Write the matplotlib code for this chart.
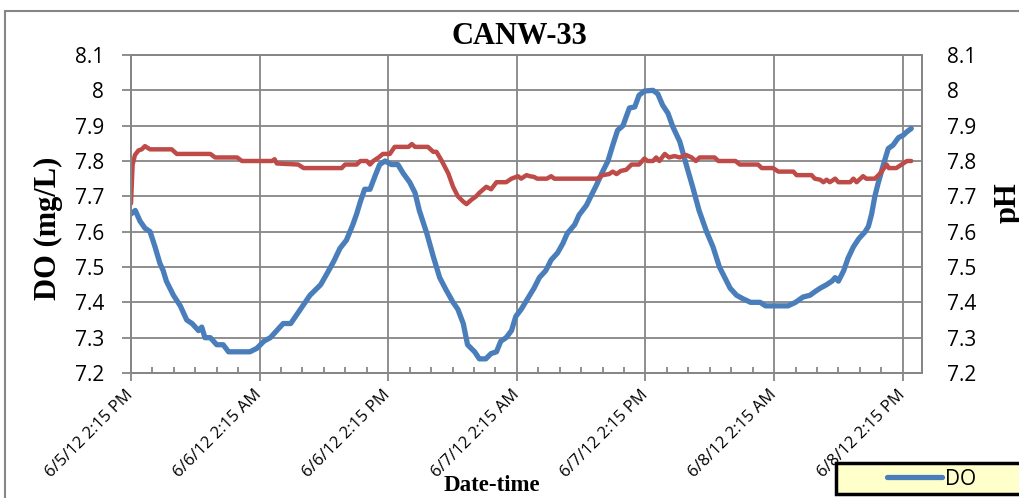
import numpy as np
from matplotlib import pyplot as plt
from matplotlib.patches import Rectangle

# hours after 6/5/12 2:15 PM
do_hours = [0, 0.4, 0.84, 1.3, 1.78, 2.24, 2.7, 3.0, 3.3, 3.96, 4.6, 5.2, 5.7, 6.3, 6.6, 6.9,
            7.4, 8.0, 8.6, 9.1, 11.1, 11.75, 12.4, 13.0, 13.6, 14.2, 14.9, 15.8, 16.7, 17.7,
            18.26, 18.9, 19.5, 20.1, 20.7, 21.05, 21.4, 21.8, 22.3, 22.8, 23.2, 23.7, 24.3,
            24.9, 25.4, 26.0, 26.5, 26.9, 27.6, 28.2, 28.8, 29.4, 30.05, 30.5, 31.0, 31.4,
            32.06, 32.5, 33.1, 33.6, 34.1, 34.5, 35.0, 35.5, 35.9, 36.4, 36.8, 37.2, 37.6,
            38.1, 38.7, 39.2, 39.8, 40.3, 40.7, 41.4, 41.8, 42.5, 42.9, 43.4, 44.0, 44.5,
            44.95, 45.4, 45.9, 46.2, 46.5, 47.0, 47.4, 47.9, 48.7, 49.15, 49.6, 50.1, 50.55,
            51.2, 51.8, 52.4, 53.0, 53.7, 54.3, 54.9, 55.4, 55.9, 56.5, 57.1, 57.8, 58.7,
            59.2, 61.3, 62.0, 62.7, 63.35, 63.8, 64.3, 64.9, 65.4, 65.7, 66.0, 66.5, 66.9,
            67.4, 67.9, 68.5, 68.8, 69.1, 69.4, 69.7, 70.2, 70.65, 71.1, 71.6, 72.05, 72.4, 72.8]
do_vals = [7.65, 7.66, 7.63, 7.61, 7.60, 7.557, 7.51, 7.49, 7.46, 7.42, 7.39, 7.35, 7.34, 7.32, 7.33, 7.30,
           7.30, 7.28, 7.28, 7.26, 7.26, 7.27, 7.29, 7.30, 7.32, 7.34, 7.34, 7.38, 7.42, 7.45,
           7.48, 7.515, 7.553, 7.576, 7.62, 7.65, 7.685, 7.72, 7.72, 7.76, 7.79, 7.80, 7.79,
           7.79, 7.765, 7.74, 7.71, 7.66, 7.595, 7.53, 7.47, 7.435, 7.40, 7.38, 7.34, 7.28,
           7.26, 7.24, 7.24, 7.255, 7.26, 7.29, 7.30, 7.32, 7.36, 7.38, 7.40, 7.42, 7.44,
           7.47, 7.49, 7.52, 7.54, 7.567, 7.595, 7.62, 7.647, 7.675, 7.70, 7.73, 7.77, 7.80,
           7.845, 7.887, 7.90, 7.925, 7.95, 7.953, 7.986, 7.998, 8.0, 7.99, 7.958, 7.935, 7.897,
           7.855, 7.79, 7.727, 7.66, 7.60, 7.557, 7.50, 7.47, 7.44, 7.42, 7.41, 7.40, 7.40,
           7.39, 7.39, 7.40, 7.415, 7.42, 7.43, 7.44, 7.45, 7.46, 7.47, 7.46, 7.49, 7.525,
           7.557, 7.58, 7.60, 7.615, 7.65, 7.70, 7.736, 7.79, 7.835, 7.845, 7.866, 7.873, 7.883, 7.892]

ph_hours = [0, 0.15, 0.37, 0.7, 1.0, 1.3, 1.78, 3.8, 4.27, 7.4, 7.85, 9.9, 10.35, 13.15, 13.4, 13.6,
            15.6, 16.1, 19.66, 19.97, 21.05, 21.4, 22.0, 22.3, 22.6, 23.1, 23.5, 24.15, 24.6,
            25.9, 26.2, 26.5, 27.7, 28.2, 28.5, 29.0, 29.6, 30.05, 30.5, 31.0, 31.3, 31.75,
            32.2, 32.5, 33.15, 33.6, 34.1, 35.0, 35.5, 36.1, 36.4, 36.9, 37.2, 37.6, 37.9,
            38.4, 38.8, 39.2, 39.5, 43.5, 44.0, 44.6, 44.95, 45.3, 45.7, 46.2, 46.7, 47.4,
            47.9, 48.2, 48.7, 49.0, 49.3, 49.8, 50.2, 50.7, 51.2, 51.8, 52.3, 52.7, 53.05,
            54.45, 54.8, 56.4, 56.8, 58.5, 58.85, 59.9, 60.4, 61.8, 62.1, 63.5, 63.8, 64.3,
            64.6, 64.9, 65.2, 65.7, 66.0, 67.1, 67.4, 67.7, 68.3, 68.6, 69.4, 69.9, 70.5,
            70.7, 71.4, 71.9, 72.4, 72.8]
ph_vals = [7.68, 7.79, 7.817, 7.83, 7.833, 7.842, 7.833, 7.833, 7.82, 7.82, 7.81, 7.81, 7.80, 7.80, 7.805, 7.793,
           7.79, 7.78, 7.78, 7.79, 7.79, 7.80, 7.80, 7.79, 7.80, 7.81, 7.82, 7.82, 7.84,
           7.84, 7.848, 7.84, 7.84, 7.826, 7.826, 7.80, 7.765, 7.727, 7.70, 7.685, 7.678, 7.69,
           7.70, 7.71, 7.727, 7.72, 7.74, 7.74, 7.75, 7.757, 7.75, 7.76, 7.757, 7.755, 7.75,
           7.75, 7.75, 7.757, 7.75, 7.75, 7.76, 7.763, 7.77, 7.763, 7.772, 7.775, 7.79, 7.79,
           7.807, 7.80, 7.80, 7.81, 7.80, 7.82, 7.81, 7.814, 7.81, 7.817, 7.81, 7.80, 7.81,
           7.81, 7.80, 7.80, 7.79, 7.79, 7.78, 7.78, 7.77, 7.77, 7.76, 7.76, 7.75, 7.747,
           7.74, 7.747, 7.74, 7.75, 7.74, 7.74, 7.75, 7.74, 7.757, 7.75, 7.75, 7.765, 7.79,
           7.78, 7.78, 7.79, 7.80, 7.80]

tick_hours = [0, 12, 24, 36, 48, 60, 72]
tick_labels = ['6/5/12 2:15 PM', '6/6/12 2:15 AM', '6/6/12 2:15 PM', '6/7/12 2:15 AM',
               '6/7/12 2:15 PM', '6/8/12 2:15 AM', '6/8/12 2:15 PM']
y_ticks = [7.2, 7.3, 7.4, 7.5, 7.6, 7.7, 7.8, 7.9, 8.0, 8.1]
y_labels = ['7.2', '7.3', '7.4', '7.5', '7.6', '7.7', '7.8', '7.9', '8', '8.1']

W, H = 1019, 498
blue = '#4A7EBB'
red = '#BE4B48'
gray = '#868686'
serif = 'Liberation Serif'
plt.rcParams['font.family'] = ['Open Sans', 'DejaVu Sans']

fig = plt.figure(figsize=(W / 100, H / 100), dpi=100)
ax = fig.add_axes([131 / W, 1 - 373 / H, (922 - 131) / W, (373 - 55) / H])
ax2 = ax.twinx()

do_line, = ax.plot(do_hours, do_vals, color=blue, lw=3.8, solid_capstyle='round', solid_joinstyle='round')
ax2.plot(ph_hours, ph_vals, color=red, lw=3.2, solid_capstyle='round', solid_joinstyle='round')

for a in (ax, ax2):
    a.set_ylim(7.2, 8.1)
    a.set_yticks(y_ticks)
    a.set_yticklabels(y_labels)
    for s in a.spines.values():
        s.set_color(gray)
        s.set_linewidth(1.3)
ax.set_xlim(0, 73.8)
ax.set_xticks(tick_hours)
ax.set_xticks(np.arange(0, 74, 2), minor=True)
ax.set_xticklabels(tick_labels, rotation=45, ha='right', va='center', rotation_mode='anchor')
ax.tick_params(axis='x', which='major', direction='out', length=6, width=1.3, color=gray,
               labelsize=12, pad=8)
ax.tick_params(axis='x', which='minor', direction='in', length=4, width=1.3, color=gray)
ax.tick_params(axis='y', direction='out', length=6.5, width=1.3, color=gray, labelsize=15, pad=13)
# secondary axis has labels only, no tick marks
ax2.tick_params(axis='y', length=0, labelsize=15, pad=18)
ax.grid(True, which='major', color=gray, lw=1.3)
ax.set_axisbelow(True)

fig.text(519 / W, 1 - 37 / H, 'CANW-33', family=serif, weight='bold', fontsize=22,
         ha='center', va='center')
fig.text(48 / W, 1 - 228 / H, 'DO (mg/L)', family=serif, weight='bold', fontsize=22,
         rotation=90, ha='center', va='center')
fig.text(1008 / W, 1 - 203 / H, 'pH', family=serif, weight='bold', fontsize=22,
         rotation=90, ha='center', va='center')
fig.text(492 / W, 1 - 485 / H, 'Date-time', family=serif, weight='bold', fontsize=16.5,
         ha='center', va='center')

# outer chart border and legend box (both run past the picture edge)
fig.add_artist(Rectangle((5 / W, -0.2), 1.2, 1.2 - 11 / H, transform=fig.transFigure,
                         fill=False, edgecolor=gray, lw=1.5, clip_on=False))
fig.add_artist(Rectangle((836 / W, 1 - 494 / H), 0.3, 31 / H, transform=fig.transFigure,
                         facecolor='#FFFFCC', edgecolor='black', lw=2.5, clip_on=False))
fig.legend(handles=[do_line], labels=['DO'], frameon=False, loc='center left',
           bbox_to_anchor=(887 / W, 1 - 479 / H), borderaxespad=0, borderpad=0,
           handlelength=2.65, handletextpad=0.15, fontsize=15)

fig.savefig('out.png', dpi=100)
